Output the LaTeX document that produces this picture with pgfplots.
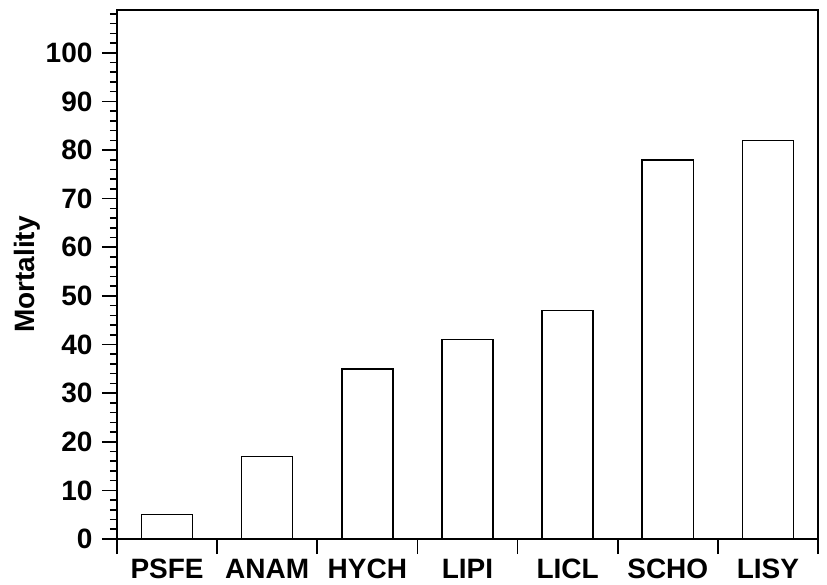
\documentclass[border=0pt]{standalone}
\usepackage{fontspec}
\setmainfont{Liberation Sans}
\usepackage{pgfplots}
\pgfplotsset{compat=1.18}
\begin{document}
\fontsize{28}{32}\selectfont\bfseries
\begin{tikzpicture}
\useasboundingbox (-117pt,-45pt) rectangle (710pt,539pt);
\begin{axis}[
  at={(0,0)}, anchor=south west,
  scale only axis, width=701pt, height=529pt,
  xmin=-0.5, xmax=6.5, ymin=0, ymax=108.8,
  axis line style={line width=1.7pt},
  tick align=outside,
  xtick pos=left, ytick pos=left,
  major tick length=15pt, minor tick length=7pt,
  tick style={line width=1.6pt, black},
  major tick style={line width=1.6pt, black},
  minor tick style={line width=1.6pt, black},
  ytick={0,10,...,100},
  minor ytick={2,4,...,108},
  xtick={-0.5,0.5,...,6.5},
  xticklabels={PSFE,ANAM,HYCH,LIPI,LICL,SCHO,LISY,{}},
  xticklabel style={anchor=north, text height=20pt, text depth=0pt, inner sep=0pt, xshift=50.07pt, yshift=-4pt},
  /pgf/number format/assume math mode=true,
  ticklabel style={font=\fontsize{28}{32}\selectfont\bfseries},
  ylabel={Mortality},
  ylabel style={font=\fontsize{26}{30}\selectfont\bfseries},
  every axis y label/.style={at={(axis description cs:-0.128,0.5)}, rotate=90, anchor=center},
]
\addplot[ybar, bar width=0.51, draw=black, line width=1.5pt, fill=white]
  coordinates {(0,5) (1,17) (2,35) (3,41) (4,47) (5,78) (6,82)};
\end{axis}
\end{tikzpicture}
\end{document}
